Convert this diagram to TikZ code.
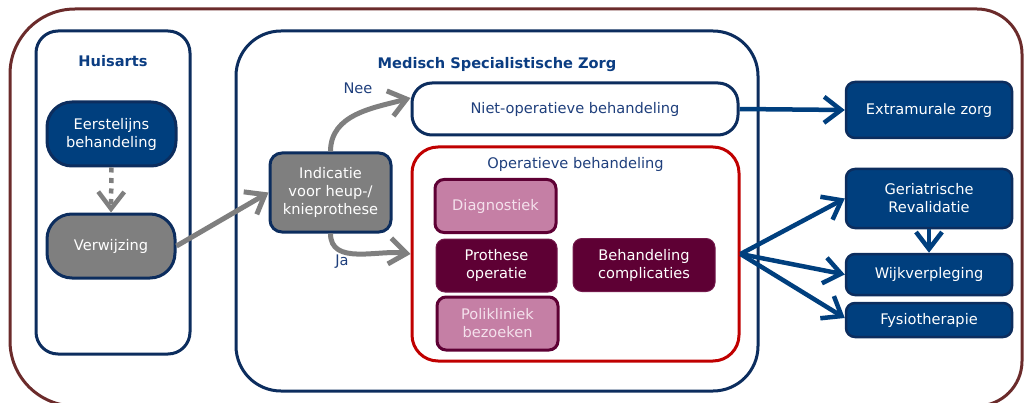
\documentclass[tikz,border=0pt]{standalone}
\usepackage{fontspec}
\setmainfont{DejaVu Sans}
\usetikzlibrary{arrows.meta}
\definecolor{framebrown}{HTML}{6B2B2B}
\definecolor{navy}{HTML}{0C2D5E}
\definecolor{deepblue}{HTML}{003F7E}
\definecolor{titleblue}{HTML}{0B3D82}
\definecolor{textblue}{HTML}{1F3F7C}
\definecolor{midgray}{HTML}{7F7F7F}
\definecolor{opred}{HTML}{C00000}
\definecolor{maroon}{HTML}{5E0034}
\definecolor{rosy}{HTML}{C57FA5}
\definecolor{rosytext}{HTML}{F4E1EC}
\begin{document}
\begin{tikzpicture}[x=1pt,y=1pt,font=\fontsize{14.6}{18}\selectfont,
every node/.style={inner sep=0pt,align=center},
container/.style={draw=navy,line width=3pt},
heading/.style={text=titleblue,font=\fontsize{14.6}{18}\selectfont\bfseries},
bluebox/.style={draw=navy,fill=deepblue,line width=2.5pt,text=white,rounded corners=9pt},
graybox/.style={draw=navy,fill=midgray,line width=3pt,text=white},
rosybox/.style={draw=maroon,fill=rosy,line width=3pt,text=rosytext,rounded corners=9pt,minimum width=121pt,minimum height=53pt},
maroonbox/.style={draw=maroon!80!rosy,fill=maroon,line width=1pt,text=white,rounded corners=9pt,minimum height=53pt},
graylink/.style={draw=midgray,line width=5pt,-{Straight Barb[length=17pt,width=26pt]}},
navylink/.style={draw=deepblue,line width=4.5pt,-{Straight Barb[length=17pt,width=26pt]}}]
\useasboundingbox (0,0) rectangle (1024,402);
\draw[framebrown,line width=3pt] (10,61) -- (10,328) arc[start angle=180,end angle=90,radius=65]
-- (977,393) arc[start angle=90,end angle=0,radius=45] -- (1022,41)
arc[start angle=0,end angle=-90,radius=45] -- (75,-4) arc[start angle=270,end angle=180,radius=65] -- cycle;
\node[container,rounded corners=22pt,minimum width=154pt,minimum height=323pt] (huisarts) at (113,209.5) {};
\node[heading] (huistitle) at (113,341) {Huisarts};
\node[graybox,fill=deepblue,draw=navy,rounded corners=25pt,minimum width=129pt,minimum height=64pt] (eerste) at (111.5,268) {Eerstelijns\\behandeling};
\node[graybox,rounded corners=25pt,minimum width=128pt,minimum height=64pt] (verwijzing) at (111,156) {Verwijzing};
\node[container,rounded corners=45pt,minimum width=522pt,minimum height=360pt] (msz) at (497,191) {};
\node[heading] (msztitle) at (497,337) {Medisch Specialistische Zorg};
\node[container,fill=white,text=textblue,rounded corners=20pt,minimum width=326pt,minimum height=52pt] (niet) at (575,293) {Niet-operatieve behandeling};
\node[draw=opred,line width=3pt,rounded corners=26pt,minimum width=327pt,minimum height=214pt] (oper) at (575.5,148) {};
\node[text=textblue] (opertitle) at (575.5,238) {Operatieve behandeling};
\node[rosybox] (diag) at (495.5,196) {Diagnostiek};
\node[maroonbox,minimum width=121pt] (prothese) at (496.5,136.5) {Prothese\\operatie};
\node[rosybox] (poli) at (497.5,78.5) {Polikliniek\\bezoeken};
\node[maroonbox,minimum width=142pt] (compl) at (644,137) {Behandeling\\complicaties};
\node[graybox,rounded corners=12pt,minimum width=121pt,minimum height=79pt] (indicatie) at (330.5,209.5) {Indicatie\\voor heup-/\\knieprothese};
\node[bluebox,minimum width=166pt,minimum height=56pt] (extra) at (929,292) {Extramurale zorg};
\node[bluebox,minimum width=166pt,minimum height=59pt] (geri) at (929,203.5) {Geriatrische\\Revalidatie};
\node[bluebox,minimum width=166pt,minimum height=41pt] (wijk) at (929,127.5) {Wijkverpleging};
\node[bluebox,minimum width=166pt,minimum height=34pt] (fysio) at (929,82) {Fysiotherapie};
\node[text=textblue] (nee) at (358,314) {Nee};
\node[text=textblue] (ja) at (342,140) {Ja};
\draw[graylink,dash pattern=on 5pt off 5.5pt,line width=4.5pt] (eerste.south) -- (verwijzing.north);
\draw[graylink] (verwijzing.east) -- (indicatie.west);
\draw[graylink] (indicatie.north) to[out=90,in=195] ([yshift=11pt]niet.west);
\draw[graylink] (indicatie.south) to[out=-90,in=172] (oper.west);
\draw[navylink] (niet.east) -- (extra.west);
\draw[navylink] (oper.east) -- (geri.west);
\draw[navylink] (oper.east) -- (wijk.west);
\draw[navylink] (oper.east) -- ([yshift=2pt]fysio.west);
\draw[navylink] (geri.south) -- (wijk.north);
\end{tikzpicture}
\end{document}
